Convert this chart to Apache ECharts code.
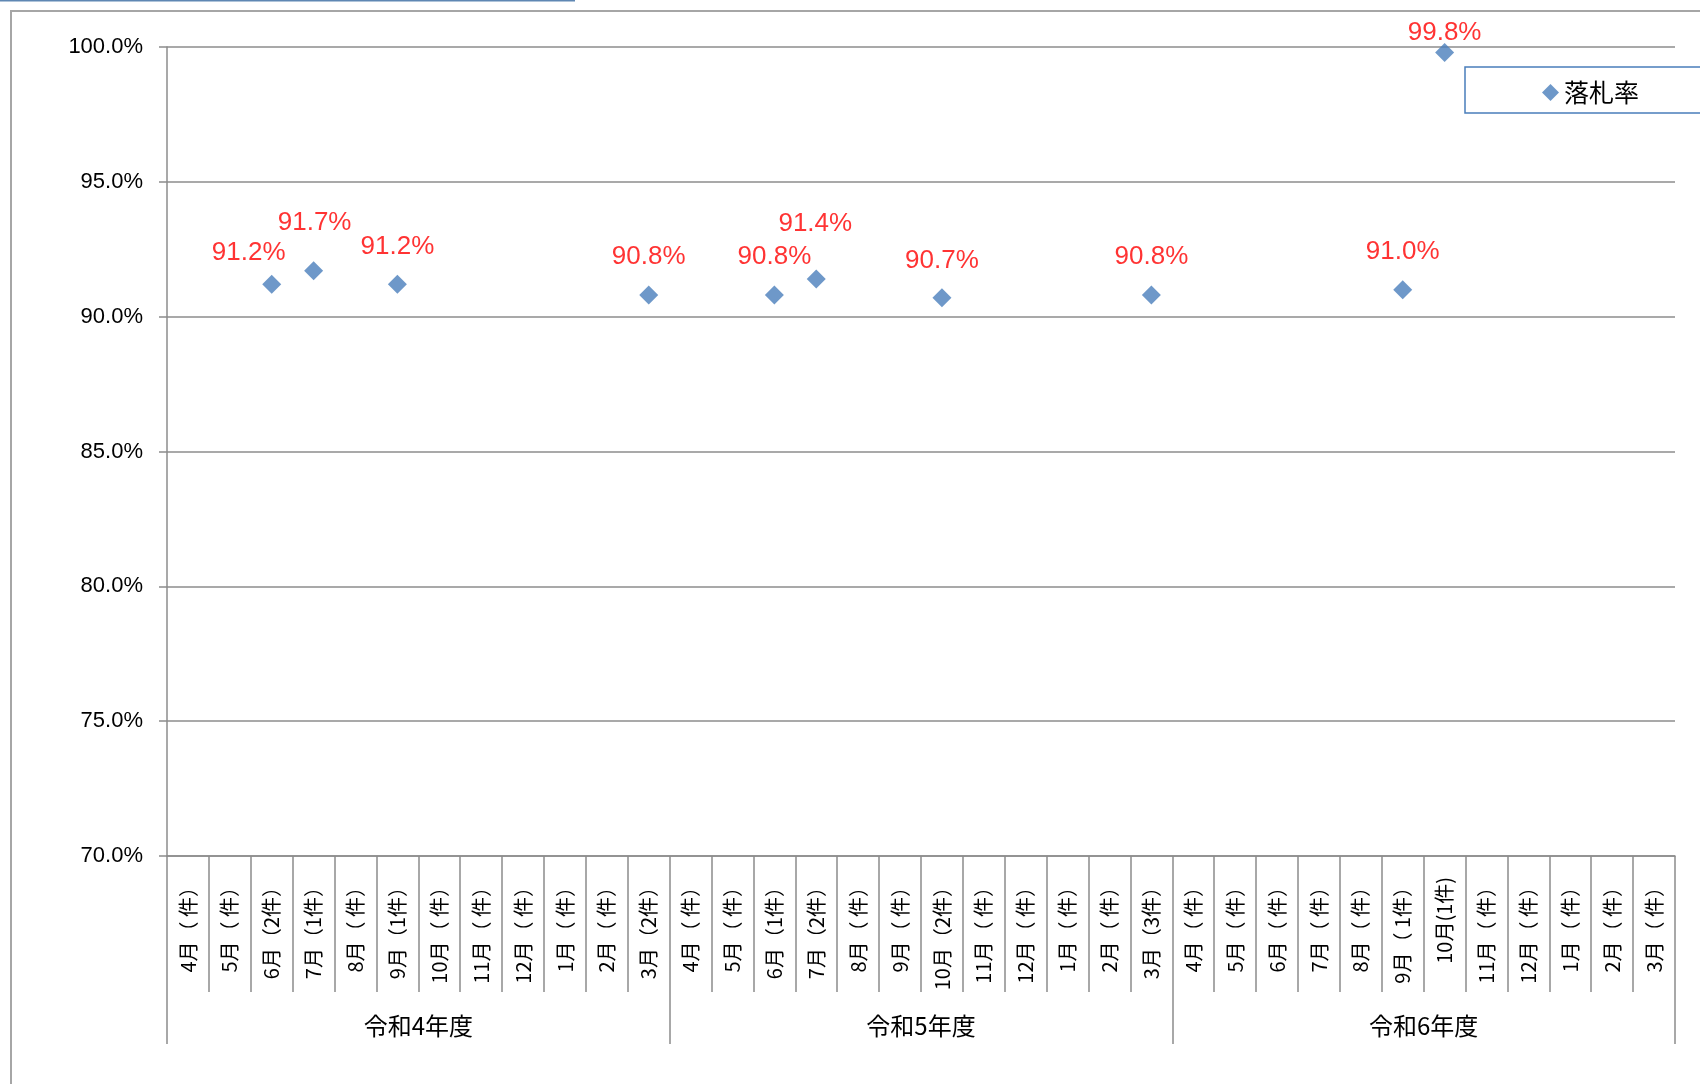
<!DOCTYPE html>
<html>
<head>
<meta charset="utf-8">
<script src="https://cdn.jsdelivr.net/npm/echarts@6/dist/echarts.min.js"></script>
<style>html,body{margin:0;padding:0;background:#fff;}#c{width:1700px;height:1084px;}</style>
</head>
<body>
<div id="c"></div>
<script>
// ---- data ----
const monthLabelsR4 = ['4月（ 件）','5月（ 件）','6月（2件）','7月（1件）','8月（ 件）','9月（1件）','10月（ 件）','11月（ 件）','12月（ 件）','1月（ 件）','2月（ 件）','3月（2件）'];
const monthLabelsR5 = ['4月（ 件）','5月（ 件）','6月（1件）','7月（2件）','8月（ 件）','9月（ 件）','10月（2件）','11月（ 件）','12月（ 件）','1月（ 件）','2月（ 件）','3月（3件）'];
const monthLabelsR6 = ['4月（ 件）','5月（ 件）','6月（ 件）','7月（ 件）','8月（ 件）','9月（ 1件）','10月(1件)','11月（ 件）','12月（ 件）','1月（ 件）','2月（ 件）','3月（ 件）'];
const fiscalYears = ['令和4年度','令和5年度','令和6年度'];
const rateR4 = [null,null,91.2,91.7,null,91.2,null,null,null,null,null,90.8];
const rateR5 = [null,null,90.8,91.4,null,null,90.7,null,null,null,null,90.8];
const rateR6 = [null,null,null,null,null,91.0,99.8,null,null,null,null,null];
const yTicks = [70,75,80,85,90,95,100];
const seriesName = '落札率';

// ---- label placement (style only) ----
const labelOffsets = {2:[-23,-31],3:[1,-48],5:[0,-37],11:[0,-38],14:[0,-38],15:[-1,-55],18:[0,-37],23:[0,-38],29:[0,-38],30:[0,-20]};

const categories = monthLabelsR4.concat(monthLabelsR5, monthLabelsR6);
const rates = rateR4.concat(rateR5, rateR6);
const points = [];
rates.forEach((v,i)=>{
  if (v === null) return;
  points.push({value:[i, v], label:{offset: labelOffsets[i] || [0,-38]}});
});

const gray = '#8c8c8c';
const chart = echarts.init(document.getElementById('c'), null, {renderer:'canvas'});
chart.setOption({
  animation:false,
  backgroundColor:'#ffffff',
  grid:{left:167,right:25,top:47,bottom:228,containLabel:false},
  legend:{
    data:[seriesName], left:1537, top:75, icon:'diamond', itemWidth:17, itemHeight:17, itemGap:10,
    textStyle:{fontSize:25, color:'#000', fontFamily:'Noto Sans CJK JP'}
  },
  xAxis:[{
    type:'category', data:categories, boundaryGap:true, position:'bottom',
    axisLine:{show:true, lineStyle:{color:gray, width:1.5}},
    axisTick:{show:true, interval:0, length:136, lineStyle:{color:gray, width:1.5}},
    axisLabel:{interval:0, rotate:90, margin:21, fontSize:20, color:'#000', fontFamily:'Noto Sans CJK JP'},
    splitLine:{show:false}
  },{
    type:'category', data:fiscalYears, boundaryGap:true, position:'bottom',
    axisLine:{show:false},
    axisTick:{show:true, interval:0, length:188, lineStyle:{color:gray, width:1.5}},
    axisLabel:{interval:0, margin:158, fontSize:24, color:'#000', fontFamily:'Noto Sans CJK JP'},
    splitLine:{show:false}
  }],
  yAxis:{
    type:'value', min:yTicks[0], max:yTicks[yTicks.length-1], interval:5,
    axisLine:{show:true, lineStyle:{color:gray, width:1.5}},
    axisTick:{show:true, length:8, lineStyle:{color:gray, width:1.5}},
    axisLabel:{margin:24, fontSize:22, color:'#000', fontFamily:'Liberation Sans', formatter:v=>v.toFixed(1)+'%'},
    splitLine:{show:true, lineStyle:{color:gray, width:1.5}}
  },
  series:[{
    name:seriesName, type:'scatter', xAxisIndex:0, symbol:'diamond', symbolSize:19,
    itemStyle:{color:'#4A7EBB'},
    label:{show:true, position:'inside', fontSize:26, color:'#FF0000', fontFamily:'Liberation Sans',
      formatter:p=>p.value[1].toFixed(1)+'%'},
    data:points
  }],
  graphic:[
    {type:'rect', shape:{x:11,y:11,width:1720,height:1120}, style:{fill:null, stroke:'#a6a6a6', lineWidth:2}, silent:true, z:-1},
    {type:'line', shape:{x1:0,y1:0.5,x2:575,y2:0.5}, style:{stroke:'#5F87B3', lineWidth:2}, silent:true},
    {type:'rect', shape:{x:1465,y:67,width:300,height:46}, style:{fill:null, stroke:'#4A7EBB', lineWidth:1.5}, silent:true}
  ]
});
</script>
</body>
</html>
